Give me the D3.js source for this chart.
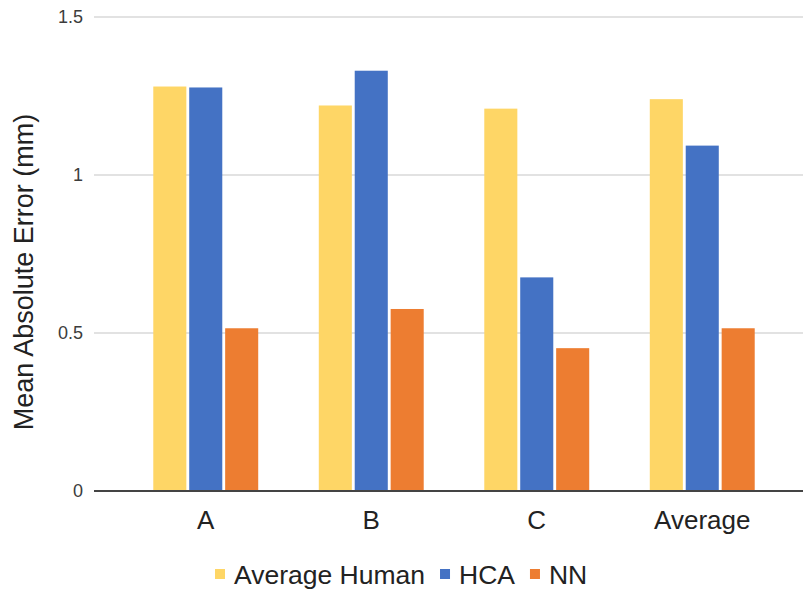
<!DOCTYPE html>
<html>
<head>
<meta charset="utf-8">
<script src="https://cdn.jsdelivr.net/npm/d3@7"></script>
<style>
  html, body { margin: 0; padding: 0; background: #fff; }
  svg { display: block; font-family: "Liberation Sans", Arial, sans-serif; }
</style>
</head>
<body>
<svg id="chart" width="803" height="592"></svg>
<script>
const categories = ["A", "B", "C", "Average"];
const seriesNames = ["Average Human", "HCA", "NN"];
const averageHuman = [1.28, 1.22, 1.21, 1.24];
const hca = [1.277, 1.33, 0.676, 1.093];
const nn = [0.515, 0.576, 0.452, 0.515];
const seriesColors = ["#FED666", "#4472C4", "#ED7D31"];
const yTicks = [0, 0.5, 1, 1.5];
const yTickLabels = ["0", "0.5", "1", "1.5"];
const yTitle = "Mean Absolute Error (mm)";

const seriesValues = [averageHuman, hca, nn];

const svg = d3.select("#chart");
const gridLeft = 94, gridRight = 803;

const y = d3.scaleLinear().domain([0, 1.5]).range([491, 17]);
const x0 = d3.scaleBand().domain(categories).range([123, 785])
  .paddingInner(0.366).paddingOuter(0.183);
const x1 = d3.scaleBand().domain(seriesNames).range([0, x0.bandwidth()])
  .paddingInner(0.08).paddingOuter(0);
const color = d3.scaleOrdinal().domain(seriesNames).range(seriesColors);

// gridlines
svg.append("g").selectAll("line")
  .data(yTicks.filter(d => d !== 0))
  .join("line")
  .attr("x1", gridLeft).attr("x2", gridRight)
  .attr("y1", d => y(d)).attr("y2", d => y(d))
  .attr("stroke", "#d9d9d9").attr("stroke-width", 1.5);

// y tick labels
svg.append("g").selectAll("text")
  .data(yTicks)
  .join("text")
  .attr("x", 83)
  .attr("y", d => y(d))
  .attr("dy", "0.35em")
  .attr("text-anchor", "end")
  .attr("font-size", 18)
  .attr("fill", "#3c3c3c")
  .text((d, i) => yTickLabels[i]);

// bars
const rows = categories.map((c, i) => ({
  cat: c,
  vals: seriesNames.map((s, j) => ({ s, v: seriesValues[j][i] }))
}));

const groups = svg.append("g").selectAll("g")
  .data(rows)
  .join("g")
  .attr("transform", d => `translate(${x0(d.cat)},0)`);

groups.selectAll("rect")
  .data(d => d.vals)
  .join("rect")
  .attr("x", d => x1(d.s))
  .attr("width", x1.bandwidth())
  .attr("y", d => y(d.v))
  .attr("height", d => y(0) - y(d.v))
  .attr("fill", d => color(d.s));

// baseline
svg.append("line")
  .attr("x1", gridLeft).attr("x2", gridRight)
  .attr("y1", y(0)).attr("y2", y(0))
  .attr("stroke", "#444").attr("stroke-width", 2);

// x labels
svg.append("g").selectAll("text")
  .data(categories)
  .join("text")
  .attr("x", d => x0(d) + x0.bandwidth() / 2)
  .attr("y", 529)
  .attr("text-anchor", "middle")
  .attr("font-size", 26)
  .attr("fill", "#222")
  .text(d => d);

// y title
svg.append("text")
  .attr("transform", `translate(33,272) rotate(-90)`)
  .attr("text-anchor", "middle")
  .attr("font-size", 27)
  .attr("fill", "#222")
  .text(yTitle);

// legend
const legend = svg.append("g");
let lx = 215;
seriesNames.forEach((s, i) => {
  legend.append("rect")
    .attr("x", lx).attr("y", 569)
    .attr("width", 10).attr("height", 10)
    .attr("fill", color(s));
  const t = legend.append("text")
    .attr("x", lx + 19).attr("y", 584)
    .attr("font-size", 26.5)
    .attr("fill", "#222")
    .text(s);
  const w = t.node().getComputedTextLength();
  lx = lx + 19 + w + 15;
});
</script>
</body>
</html>
